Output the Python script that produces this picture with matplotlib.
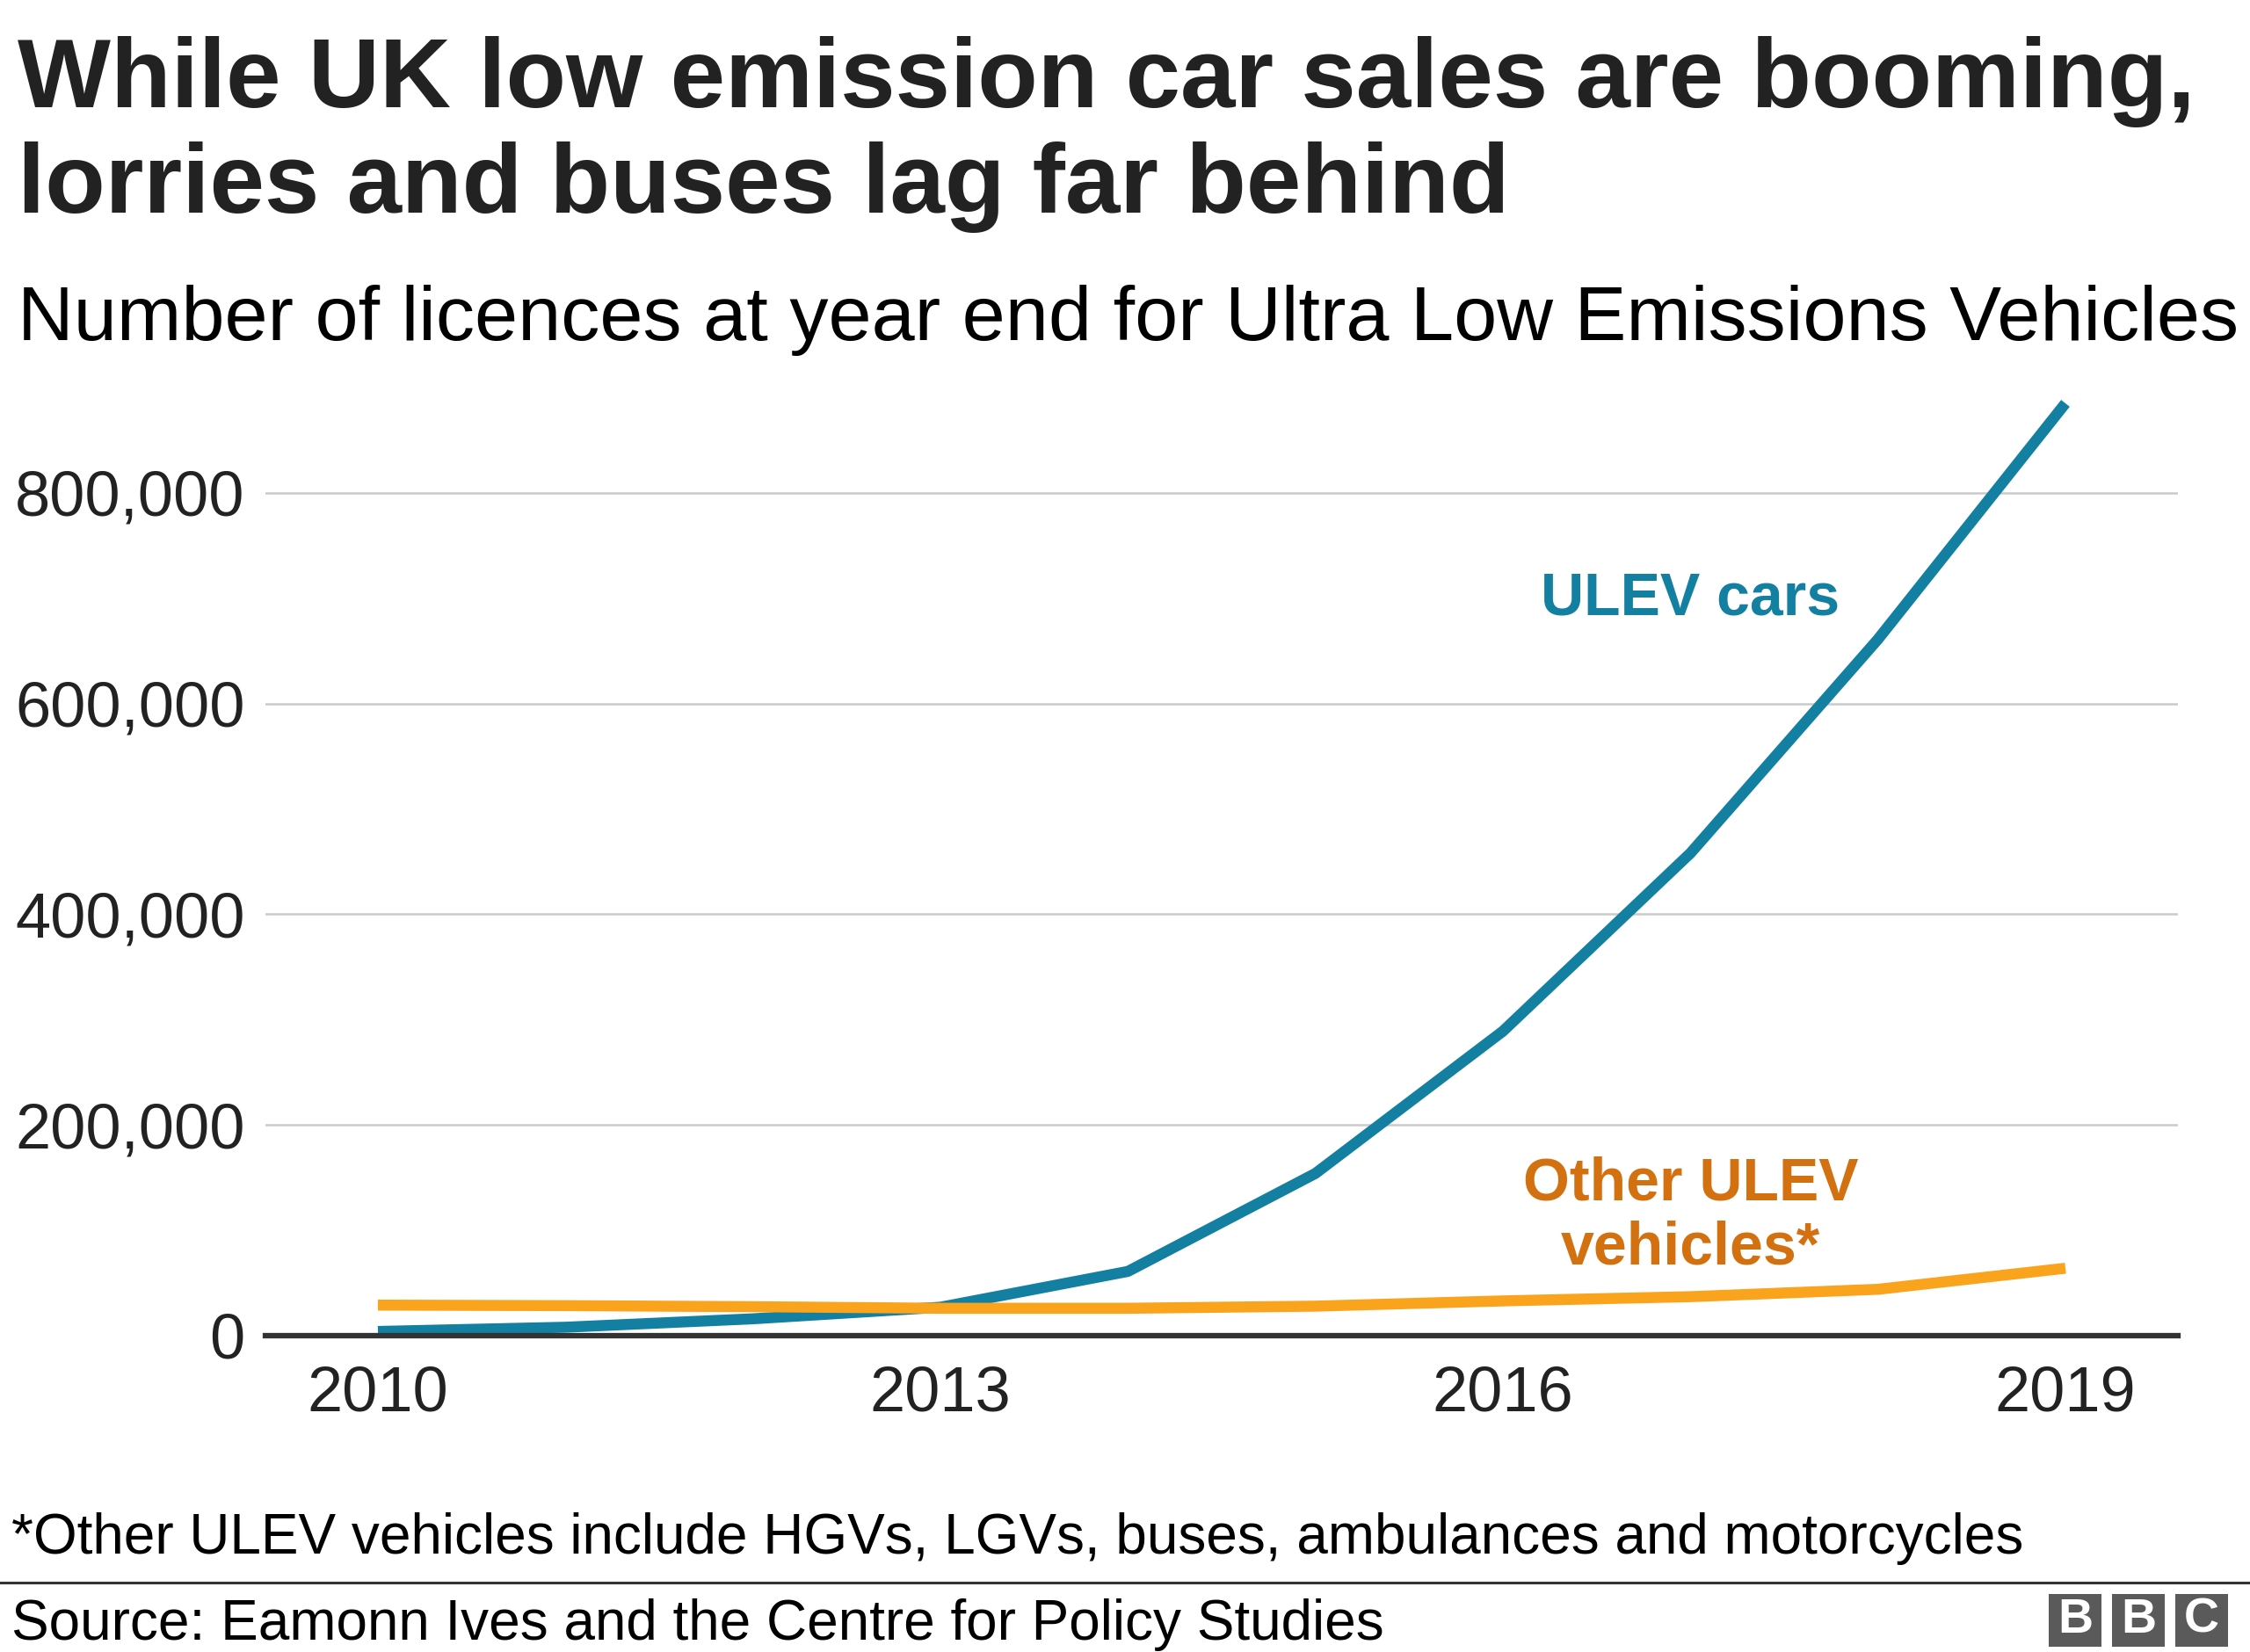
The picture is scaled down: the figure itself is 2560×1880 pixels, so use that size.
import matplotlib
matplotlib.use("Agg")
import matplotlib.pyplot as plt
from matplotlib.patches import Rectangle
from matplotlib.lines import Line2D
from matplotlib.ticker import FuncFormatter

years = [2010, 2011, 2012, 2013, 2014, 2015, 2016, 2017, 2018, 2019]
ulev_cars = [4000, 8000, 16000, 27000, 61000, 154000, 289000, 458000, 661000, 885000]
other_ulev = [29000, 28500, 27500, 26000, 26000, 28000, 33000, 37000, 44000, 64000]
xtick_years = [2010, 2013, 2016, 2019]
ytick_values = [0, 200000, 400000, 600000, 800000]

title_lines = ["While UK low emission car sales are booming,", "lorries and buses lag far behind"]
subtitle = "Number of licences at year end for Ultra Low Emissions Vehicles"
footnote = "*Other ULEV vehicles include HGVs, LGVs, buses, ambulances and motorcycles"
source = "Source: Eamonn Ives and the Centre for Policy Studies"

BLUE = "#1380A1"
ORANGE = "#FAA31C"
ORANGE_TXT = "#D3700F"
DARK = "#222222"

plt.rcParams['font.family'] = ['Liberation Sans', 'DejaVu Sans']

W, H = 2560, 1880
fig = plt.figure(figsize=(W / 100, H / 100), dpi=100)

def fy(px):
    return 1 - px / H

def fx(px):
    return px / W

fig.text(fx(20), fy(122), title_lines[0], fontsize=80.8,
         fontweight='bold', color=DARK, va='baseline', ha='left')
fig.text(fx(20), fy(242), title_lines[1], fontsize=80.8,
         fontweight='bold', color=DARK, va='baseline', ha='left')
fig.text(fx(20), fy(387), subtitle, fontsize=63.5, color='#000000', va='baseline', ha='left')

ax = fig.add_axes([fx(302), fy(1520), fx(2478) - fx(302), fy(441) - fy(1520)])
ax.set_xlim(2009.4, 2019.6)
ax.set_ylim(0, 900000)

for v in ytick_values[1:]:
    ax.axhline(v, color='#cbcbcb', lw=1.8, zorder=1)
ax.axhline(0, color='#333333', lw=4.5, zorder=4, clip_on=False)

ax.plot(years, ulev_cars, color=BLUE, lw=9, solid_capstyle='butt', zorder=3, clip_on=False)
ax.plot(years, other_ulev, color=ORANGE, lw=9, solid_capstyle='butt', zorder=3, clip_on=False)

ax.set_xticks(xtick_years)
ax.set_xticklabels([str(y) for y in xtick_years])
ax.set_yticks(ytick_values)
ax.yaxis.set_major_formatter(FuncFormatter(lambda v, p: f"{int(v):,}"))
ax.tick_params(axis='x', length=0, pad=24, labelsize=52, labelcolor=DARK)
ax.tick_params(axis='y', length=0, pad=17, labelsize=52, labelcolor=DARK)
for s in ax.spines.values():
    s.set_visible(False)
ax.set_facecolor('none')

ax.text(2017.0, 699000, "ULEV cars", color=BLUE, fontsize=49, fontweight='bold',
        ha='center', va='center')
ax.text(2017.0, 128500, "Other ULEV", color=ORANGE_TXT, fontsize=49, fontweight='bold',
        ha='center', va='baseline')
ax.text(2017.0, 67600, "vehicles*", color=ORANGE_TXT, fontsize=49, fontweight='bold',
        ha='center', va='baseline')

fig.text(fx(13), fy(1768), footnote, fontsize=46, color='#000000', va='baseline', ha='left')
fig.add_artist(Line2D([0, 1], [fy(1801), fy(1801)], color='#333333', lw=2.2,
                      transform=fig.transFigure))
fig.text(fx(13), fy(1866), source, fontsize=46, color='#000000', va='baseline', ha='left')

box = 60
gap = 12
x0 = 2331
y_top = 1814
for i, letter in enumerate("BBC"):
    bx = x0 + i * (box + gap)
    fig.add_artist(Rectangle((fx(bx), fy(y_top + box)), fx(box), box / H,
                             transform=fig.transFigure, color='#5a5a5a', lw=0))
    fig.text(fx(bx + box / 2), fy(y_top + box / 2), letter, fontsize=40, fontweight='bold',
             color='white', ha='center', va='center')

fig.savefig("out.png", dpi=100, facecolor='white')
